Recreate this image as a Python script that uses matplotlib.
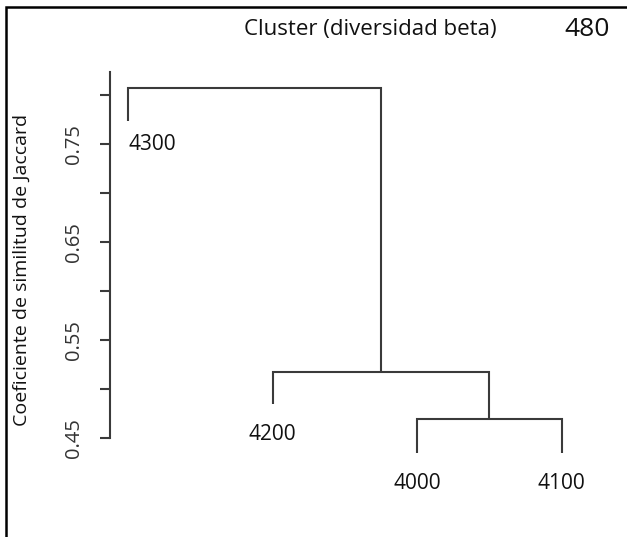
import matplotlib
matplotlib.use("Agg")
import matplotlib.pyplot as plt
from matplotlib.patches import Rectangle

# ---- data ----
leaf_labels = ['4300', '4200', '4000', '4100']
leaf_heights = [0.773, 0.484, 0.434, 0.434]
# merges: (left child, right child, height); children >=0 are leaves, negatives are earlier merges (-1 -> merge 0)
merge_left = [2, 1, 0]
merge_right = [3, -1, -2]
merge_heights = [0.469, 0.517, 0.807]
ytick_major = [0.45, 0.55, 0.65, 0.75]
ytick_minor = [0.50, 0.60, 0.70, 0.80]

title = 'Cluster (diversidad beta)'
corner = '480'
ylabel = 'Coeficiente de similitud de Jaccard'

plt.rcParams['font.family'] = ['Open Sans', 'DejaVu Sans']
plt.rcParams['font.stretch'] = 'normal'
W, H = 627, 537
fig = plt.figure(figsize=(W / 100, H / 100), dpi=100)
fig.patch.set_facecolor('white')

ax = fig.add_axes([110 / W, (H - 437.7) / H, (600 - 110) / W, (437.7 - 72) / H])
ax.set_xlim(0.8754, 4.266)
ax.set_ylim(0.45, 0.8232)

lc = '#3a3a3a'
lw = 1.5

leaf_x = [i + 1 for i in range(len(leaf_labels))]
node_x = []
node_h = []

def child_pos(c):
    if c >= 0:
        return leaf_x[c], leaf_heights[c]
    return node_x[-c - 1], node_h[-c - 1]

for l, r, h in zip(merge_left, merge_right, merge_heights):
    xl, hl = child_pos(l)
    xr, hr = child_pos(r)
    ax.plot([xl, xl, xr, xr], [hl, h, h, hr], color=lc, lw=lw, clip_on=False,
            solid_capstyle='butt', solid_joinstyle='miter')
    node_x.append((xl + xr) / 2)
    node_h.append(h)

for i, (lab, x, h) in enumerate(zip(leaf_labels, leaf_x, leaf_heights)):
    ha = 'left' if i == 0 else 'center'
    off = -17 if i == 0 else -22
    ax.annotate(lab, (x, h), xytext=(0, off), textcoords='offset points',
                ha=ha, va='center', fontsize=15, color='#111', annotation_clip=False)

for s in ['top', 'right', 'bottom']:
    ax.spines[s].set_visible(False)
ax.spines['left'].set_color(lc)
ax.spines['left'].set_linewidth(lw)
ax.set_xticks([])
ax.set_yticks(ytick_major)
ax.set_yticklabels([f'{v:.2f}' for v in ytick_major], rotation=90, va='center')
ax.set_yticks(ytick_minor, minor=True)
ax.tick_params(axis='y', which='both', length=7.5, width=lw, color=lc,
               labelsize=14.5, labelcolor='#333', pad=11)
ax.patch.set_alpha(0)

fig.text(370 / W, 1 - 30 / H, title, ha='center', va='center', fontsize=16, color='#111')
fig.text(587 / W, 1 - 30 / H, corner, ha='center', va='center', fontsize=19, color='#111')
fig.text(22 / W, 1 - 270 / H, ylabel, rotation=90, ha='center', va='center', fontsize=14, color='#111')

fig.add_artist(Rectangle((6 / W, -0.1), 1.2, (H - 7) / H + 0.1, transform=fig.transFigure,
                         fill=False, edgecolor='black', lw=1.8))

fig.savefig('out.png', dpi=100)
